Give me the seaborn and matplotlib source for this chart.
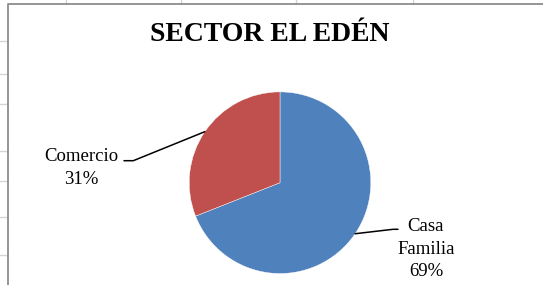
import matplotlib
matplotlib.use("Agg")
import matplotlib.pyplot as plt
import seaborn as sns
import numpy as np
from matplotlib.lines import Line2D

# ---- data ----
categories = ["Casa Familia", "Comercio"]
values = [69, 31]
colors = ["#4F81BD", "#C0504D"]
title = "SECTOR EL EDÉN"

sns.set_theme(style="white")
plt.rcParams["font.family"] = ["Liberation Serif", "DejaVu Serif"]

W, H = 543, 285
fig = plt.figure(figsize=(W / 100, H / 100), dpi=100)
fig.patch.set_facecolor("white")


def fx(x, y):
    """pixel (from top-left) -> figure fraction"""
    return x / W, 1 - y / H


# spreadsheet grid remnants and chart frame
grid_c = "#d4d4d4"
for x in [66, 181, 296, 413]:
    fig.add_artist(Line2D([x / W, x / W], [1, 1 - 4 / H], color=grid_c, lw=1,
                          transform=fig.transFigure))
for y in [41, 74, 104, 151, 181, 217, 255]:
    fig.add_artist(Line2D([0, 8 / W], [1 - y / H, 1 - y / H], color=grid_c, lw=1,
                          transform=fig.transFigure))
frame_c = "#8c8c8c"
fig.add_artist(Line2D([8 / W, 8 / W, 1.01], [-0.01, 1 - 4 / H, 1 - 4 / H],
                      color=frame_c, lw=1.3, transform=fig.transFigure))

# pie axes
cx, cy, r = 280, 182.7, 90.8
ax = fig.add_axes([(cx - r) / W, 1 - (cy + r) / H, 2 * r / W, 2 * r / H])
wedges, _ = ax.pie(values, colors=colors, startangle=90, counterclock=False,
                   radius=1, wedgeprops=dict(edgecolor="white", linewidth=0.3))
ax.set_xlim(-1, 1)
ax.set_ylim(-1, 1)
ax.axis("off")

fig.text(*fx(270, 35), title, ha="center", va="center", fontsize=20,
         fontweight="bold", color="black")

# labels with leader lines
label_pos = {"Casa Familia": (426, 249), "Comercio": (81, 168)}
elbows = {"Casa Familia": [(393, 229.3), (398, 229.3)],
          "Comercio": [(133.3, 160.7), (124, 160.7)]}
inv = fig.transFigure.inverted()
for w, cat, val in zip(wedges, categories, values):
    ang = np.deg2rad((w.theta1 + w.theta2) / 2)
    edge = inv.transform(ax.transData.transform((np.cos(ang), np.sin(ang))))
    pts = [edge] + [fx(*p) for p in elbows[cat]]
    xs = [p[0] for p in pts]
    ys = [p[1] for p in pts]
    fig.add_artist(Line2D(xs, ys, color="black", lw=1.1, transform=fig.transFigure))
    txt = cat.replace(" ", "\n") + f"\n{val}%"
    fig.text(*fx(*label_pos[cat]), txt, ha="center", va="center", fontsize=13.5,
             linespacing=1.4, color="black")

fig.savefig("out.png", dpi=100)
